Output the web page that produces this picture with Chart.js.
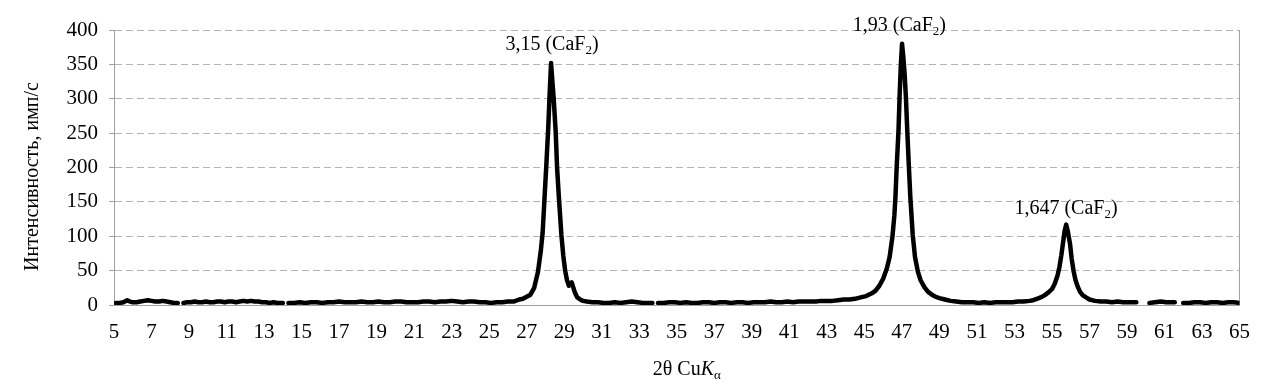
<!DOCTYPE html>
<html><head><meta charset="utf-8">
<script src="https://cdn.jsdelivr.net/npm/chart.js@4.4.1/dist/chart.umd.min.js"></script>
<style>html,body{margin:0;padding:0;background:#fff}#wrap{width:1265px;height:390px}</style>
</head><body><div id="wrap"><canvas id="c" width="1265" height="390"></canvas></div>
<script>
// 2θ (degrees) – measured points; null marks a gap in the recorded trace
const twoTheta = [
  5.1,5.3,5.5,5.7,5.85,6.0,6.2,6.4,6.6,6.8,
  7.0,7.2,7.4,7.6,7.8,8.0,8.2,8.4,8.55,8.7,
  8.9,9.1,9.3,9.5,9.7,9.9,10.1,10.3,10.5,10.7,
  10.9,11.1,11.3,11.5,11.7,11.9,12.1,12.3,12.5,12.7,
  12.9,13.1,13.3,13.5,13.7,13.9,14.0,14.15,14.3,14.6,
  14.9,15.2,15.5,15.8,16.1,16.4,16.7,17.0,17.3,17.6,
  17.9,18.2,18.5,18.8,19.1,19.4,19.7,20.0,20.3,20.6,
  20.9,21.2,21.5,21.8,22.1,22.4,22.7,23.0,23.3,23.6,
  23.9,24.2,24.5,24.8,25.1,25.4,25.7,26.0,26.3,26.6,
  26.8,27.0,27.2,27.4,27.6,27.75,27.85,27.95,28.05,28.15,
  28.22,28.3,28.37,28.44,28.55,28.62,28.72,28.85,28.95,29.05,
  29.15,29.25,29.33,29.4,29.48,29.57,29.7,29.85,30.0,30.2,
  30.5,30.8,31.1,31.4,31.7,32.0,32.3,32.6,32.9,33.2,
  33.5,33.7,33.85,34.0,34.3,34.6,34.9,35.2,35.5,35.8,
  36.1,36.4,36.7,37.0,37.3,37.6,37.9,38.2,38.5,38.8,
  39.1,39.4,39.7,40.0,40.3,40.6,40.9,41.2,41.5,41.8,
  42.1,42.4,42.7,43.0,43.3,43.6,43.9,44.2,44.5,44.8,
  45.1,45.4,45.6,45.8,46.0,46.2,46.35,46.5,46.6,46.66,
  46.73,46.82,46.88,46.94,47.01,47.08,47.15,47.22,47.29,47.37,
  47.45,47.58,47.7,47.85,48.0,48.2,48.4,48.6,48.8,49.0,
  49.3,49.6,49.9,50.2,50.5,50.8,51.1,51.4,51.7,52.0,
  52.3,52.6,52.9,53.2,53.5,53.8,54.0,54.2,54.4,54.6,
  54.8,55.0,55.15,55.3,55.4,55.5,55.6,55.68,55.76,55.84,
  55.9,55.97,56.05,56.15,56.25,56.37,56.5,56.65,56.82,57.0,
  57.3,57.6,57.9,58.2,58.5,58.8,59.1,59.4,59.5,59.85,
  60.2,60.5,60.8,61.1,61.4,61.55,61.8,62.0,62.3,62.6,
  62.9,63.2,63.5,63.8,64.1,64.4,64.7,65.0
];
// Intensity, counts/s
const intensity = [
  3,3,4,7,5,4,4,5,6,7,
  6,5,5,6,5,4,3,3,null,3,
  4,4,5,4,4,5,4,4,5,5,
  4,5,5,4,5,6,5,6,5,5,
  4,4,3,4,3,3,3,null,3,3,
  4,3,4,4,3,4,4,5,4,4,
  4,5,4,4,5,4,4,5,5,4,
  4,4,5,5,4,5,5,6,5,4,
  5,5,4,4,3,4,4,5,5,8,
  9,12,15,25,48,78,105,155,205,258,
  305,352,325,300,250,200,155,102,72,50,
  36,28,31,33,26,18,11,8,6,5,
  4,4,3,3,4,3,4,5,4,3,
  3,3,null,3,3,4,4,3,4,3,
  3,4,4,3,4,4,3,4,4,3,
  4,4,4,5,4,4,5,4,5,5,
  5,5,6,6,6,7,8,8,9,11,
  13,17,21,28,38,53,70,100,130,158,
  204,253,304,345,380,360,335,300,253,204,
  158,102,70,49,36,26,19,15,12,10,
  8,6,5,4,4,4,3,4,3,4,
  4,4,4,5,5,6,7,9,11,14,
  18,23,31,43,55,72,92,108,117,108,
  99,88,68,50,37,27,19,14,11,8,
  6,5,5,4,5,4,4,4,4,null,
  3,4,5,4,4,4,null,3,3,4,
  4,3,4,4,3,4,4,3
];
const xTickValues = [5,7,9,11,13,15,17,19,21,23,25,27,29,31,33,35,37,39,41,43,45,47,49,51,53,55,57,59,61,63,65];
const yTickValues = [0,50,100,150,200,250,300,350,400];
// Peak annotations: d-spacing (Å), phase, label anchor (2θ, intensity)
const peakD = ['3,15','1,93','1,647'];
const peakPhase = ['CaF','CaF','CaF'];
const peakLabelX = [28.35, 46.87, 55.75];
const peakLabelY = [381, 409, 142];

const FONT = '"Liberation Serif", "Times New Roman", serif';

const annot = {
  id: 'annot',
  afterDraw(chart) {
    const ctx = chart.ctx, xs = chart.scales.x, ys = chart.scales.y, ca = chart.chartArea;
    ctx.save();
    ctx.fillStyle = '#000';
    ctx.textBaseline = 'alphabetic';
    for (let i = 0; i < peakD.length; i++) {
      const cx = xs.getPixelForValue(peakLabelX[i]);
      const cy = ys.getPixelForValue(peakLabelY[i]);
      const p1 = peakD[i] + ' (' + peakPhase[i], p2 = '2', p3 = ')';
      ctx.font = '20px ' + FONT; const w1 = ctx.measureText(p1).width, w3 = ctx.measureText(p3).width;
      ctx.font = '13px ' + FONT; const w2 = ctx.measureText(p2).width;
      let x = cx - (w1 + w2 + w3) / 2, base = cy + 7;
      ctx.textAlign = 'left';
      ctx.font = '20px ' + FONT; ctx.fillText(p1, x, base); x += w1;
      ctx.font = '13px ' + FONT; ctx.fillText(p2, x, base + 4); x += w2;
      ctx.font = '20px ' + FONT; ctx.fillText(p3, x, base);
    }
    {
      const a = '2θ Cu', b = 'K', c = 'α';
      ctx.font = '20px ' + FONT; const wa = ctx.measureText(a).width;
      ctx.font = 'italic 20px ' + FONT; const wb = ctx.measureText(b).width;
      ctx.font = '13px ' + FONT; const wc = ctx.measureText(c).width;
      let x = (ca.left + ca.right) / 2 + 10 - (wa + wb + wc) / 2, base = ca.bottom + 70;
      ctx.textAlign = 'left';
      ctx.font = '20px ' + FONT; ctx.fillText(a, x, base); x += wa;
      ctx.font = 'italic 20px ' + FONT; ctx.fillText(b, x, base); x += wb;
      ctx.font = '13px ' + FONT; ctx.fillText(c, x, base + 4);
    }
    ctx.translate(38, (ca.top + ca.bottom) / 2 + 9);
    ctx.rotate(-Math.PI / 2);
    ctx.textAlign = 'center';
    ctx.font = '20px ' + FONT;
    ctx.fillText('Интенсивность, имп/с', 0, 0);
    ctx.restore();
  }
};

new Chart(document.getElementById('c'), {
  type: 'line',
  data: {
    datasets: [{
      data: twoTheta.map((x, i) => ({ x: x, y: intensity[i] })),
      borderColor: '#000',
      borderWidth: 4.5,
      pointRadius: 0,
      tension: 0,
      spanGaps: false,
      borderJoinStyle: 'round',
      borderCapStyle: 'round',
      fill: false
    }]
  },
  options: {
    responsive: false,
    animation: false,
    devicePixelRatio: 1,
    layout: { padding: { left: 0, right: 25, top: 30, bottom: 0 } },
    plugins: { legend: { display: false }, tooltip: { enabled: false } },
    scales: {
      x: {
        type: 'linear', min: 5, max: 65,
        afterBuildTicks: s => { s.ticks = xTickValues.map(v => ({ value: v })); },
        afterFit: s => { s.height = 85; },
        grid: { display: false, drawTicks: false },
        border: { display: true, color: '#a0a0a0', width: 1 },
        ticks: { font: { family: FONT, size: 21 }, color: '#000', padding: 15, maxRotation: 0, autoSkip: false }
      },
      y: {
        min: 0, max: 400,
        afterBuildTicks: s => { s.ticks = yTickValues.map(v => ({ value: v })); },
        afterFit: s => { s.width = 114; },
        grid: { color: '#b4b4b4', lineWidth: 1, tickLength: 5, tickColor: '#a0a0a0' },
        border: { display: true, color: '#a0a0a0', width: 1, dash: [7, 4] },
        ticks: { font: { family: FONT, size: 21 }, color: '#000', padding: 11 }
      },
      y2: {
        position: 'right', min: 0, max: 400, display: true,
        afterFit: s => { s.width = 0; },
        grid: { display: false, drawTicks: false },
        border: { display: true, color: '#a0a0a0', width: 1 },
        ticks: { display: false }
      }
    }
  },
  plugins: [annot]
});
</script>
</body></html>
